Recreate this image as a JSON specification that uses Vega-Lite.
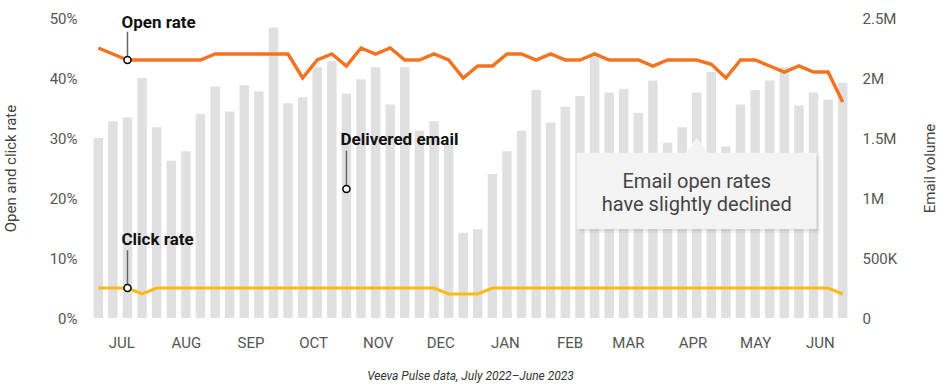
{
  "$schema": "https://vega.github.io/schema/vega-lite/v6.json",
  "width": 759,
  "height": 300,
  "autosize": {"type": "none"},
  "padding": {"left": 91, "top": 18, "right": 91, "bottom": 73},
  "background": "white",
  "config": {
    "font": "Roboto",
    "view": {"stroke": null},
    "axis": {
      "grid": false, "domain": false, "ticks": false,
      "labelFont": "Roboto", "labelFontSize": 15, "labelColor": "#555555",
      "titleFont": "Roboto", "titleFontSize": 15, "titleFontWeight": "normal", "titleColor": "#444444"
    }
  },
  "title": {
    "text": "Veeva Pulse data, July 2022–June 2023",
    "orient": "bottom", "anchor": "middle", "fontSize": 12, "fontStyle": "italic",
    "fontWeight": "normal", "color": "#333333", "offset": 21, "font": "Roboto"
  },
  "datasets": {
    "weeks": [
      {"week": "2022-07-04", "volume": 1500000, "open": 45, "click": 5},
      {"week": "2022-07-11", "volume": 1640000, "open": 44, "click": 5},
      {"week": "2022-07-18", "volume": 1670000, "open": 43, "click": 5},
      {"week": "2022-07-25", "volume": 2000000, "open": 43, "click": 4},
      {"week": "2022-08-01", "volume": 1590000, "open": 43, "click": 5},
      {"week": "2022-08-08", "volume": 1310000, "open": 43, "click": 5},
      {"week": "2022-08-15", "volume": 1390000, "open": 43, "click": 5},
      {"week": "2022-08-22", "volume": 1700000, "open": 43, "click": 5},
      {"week": "2022-08-29", "volume": 1930000, "open": 44, "click": 5},
      {"week": "2022-09-05", "volume": 1720000, "open": 44, "click": 5},
      {"week": "2022-09-12", "volume": 1940000, "open": 44, "click": 5},
      {"week": "2022-09-19", "volume": 1890000, "open": 44, "click": 5},
      {"week": "2022-09-26", "volume": 2420000, "open": 44, "click": 5},
      {"week": "2022-10-03", "volume": 1790000, "open": 44, "click": 5},
      {"week": "2022-10-10", "volume": 1840000, "open": 40, "click": 5},
      {"week": "2022-10-17", "volume": 2090000, "open": 43, "click": 5},
      {"week": "2022-10-24", "volume": 2140000, "open": 44, "click": 5},
      {"week": "2022-10-31", "volume": 1870000, "open": 42, "click": 5},
      {"week": "2022-11-07", "volume": 1990000, "open": 45, "click": 5},
      {"week": "2022-11-14", "volume": 2090000, "open": 44, "click": 5},
      {"week": "2022-11-21", "volume": 1780000, "open": 45, "click": 5},
      {"week": "2022-11-28", "volume": 2090000, "open": 43, "click": 5},
      {"week": "2022-12-05", "volume": 1560000, "open": 43, "click": 5},
      {"week": "2022-12-12", "volume": 1640000, "open": 44, "click": 5},
      {"week": "2022-12-19", "volume": 1440000, "open": 43, "click": 4},
      {"week": "2022-12-26", "volume": 710000, "open": 40, "click": 4},
      {"week": "2023-01-02", "volume": 740000, "open": 42, "click": 4},
      {"week": "2023-01-09", "volume": 1200000, "open": 42, "click": 5},
      {"week": "2023-01-16", "volume": 1390000, "open": 44, "click": 5},
      {"week": "2023-01-23", "volume": 1560000, "open": 44, "click": 5},
      {"week": "2023-01-30", "volume": 1900000, "open": 43, "click": 5},
      {"week": "2023-02-06", "volume": 1630000, "open": 44, "click": 5},
      {"week": "2023-02-13", "volume": 1760000, "open": 43, "click": 5},
      {"week": "2023-02-20", "volume": 1850000, "open": 43, "click": 5},
      {"week": "2023-02-27", "volume": 2180000, "open": 44, "click": 5},
      {"week": "2023-03-06", "volume": 1880000, "open": 43, "click": 5},
      {"week": "2023-03-13", "volume": 1910000, "open": 43, "click": 5},
      {"week": "2023-03-20", "volume": 1710000, "open": 43, "click": 5},
      {"week": "2023-03-27", "volume": 1980000, "open": 42, "click": 5},
      {"week": "2023-04-03", "volume": 1460000, "open": 43, "click": 5},
      {"week": "2023-04-10", "volume": 1590000, "open": 43, "click": 5},
      {"week": "2023-04-17", "volume": 1880000, "open": 43, "click": 5},
      {"week": "2023-04-24", "volume": 2050000, "open": 42.3, "click": 5},
      {"week": "2023-05-01", "volume": 1430000, "open": 40, "click": 5},
      {"week": "2023-05-08", "volume": 1780000, "open": 43, "click": 5},
      {"week": "2023-05-15", "volume": 1900000, "open": 43, "click": 5},
      {"week": "2023-05-22", "volume": 1980000, "open": 42, "click": 5},
      {"week": "2023-05-29", "volume": 2090000, "open": 41, "click": 5},
      {"week": "2023-06-05", "volume": 1770000, "open": 42, "click": 5},
      {"week": "2023-06-12", "volume": 1880000, "open": 41, "click": 5},
      {"week": "2023-06-19", "volume": 1820000, "open": 41, "click": 5},
      {"week": "2023-06-26", "volume": 1960000, "open": 36, "click": 4}
    ],
    "notes": [
      {"label": "Open rate", "week": "2022-07-18", "ytext": 48.3, "ytop": 47.7, "ypt": 43},
      {"label": "Click rate", "week": "2022-07-18", "ytext": 12.2, "ytop": 11.3, "ypt": 5},
      {"label": "Delivered email", "week": "2022-10-31", "ytext": 28.8, "ytop": 27.9, "ypt": 21.5}
    ],
    "box": [
      {"week": "2023-02-18T11:00:00Z", "week2": "2023-06-13T12:00:00Z", "top": 27.55, "bottom": 14.83}
    ],
    "callout": [
      {"week": "2023-04-17T00:00:00Z", "top": 27.55, "ty": 22.67, "text": "Email open rates\nhave slightly declined"}
    ]
  },
  "layer": [
    {
      "data": {"name": "weeks"},
      "mark": {"type": "bar", "size": 9.5, "color": "#e0e0e0"},
      "encoding": {
        "x": {
          "field": "week", "type": "temporal", "title": null,
          "scale": {"type": "utc", "padding": 0, "domain": ["2022-06-30T12:00:00Z", "2023-06-29T12:00:00Z"]},
          "axis": {
            "values": [
              {"year": 2022, "month": 7, "date": 15, "utc": true},
              {"year": 2022, "month": 8, "date": 15, "utc": true},
              {"year": 2022, "month": 9, "date": 15, "utc": true},
              {"year": 2022, "month": 10, "date": 15, "utc": true},
              {"year": 2022, "month": 11, "date": 15, "utc": true},
              {"year": 2022, "month": 12, "date": 15, "utc": true},
              {"year": 2023, "month": 1, "date": 15, "utc": true},
              {"year": 2023, "month": 2, "date": 15, "utc": true},
              {"year": 2023, "month": 3, "date": 15, "utc": true},
              {"year": 2023, "month": 4, "date": 15, "utc": true},
              {"year": 2023, "month": 5, "date": 15, "utc": true},
              {"year": 2023, "month": 6, "date": 15, "utc": true}
            ],
            "labelExpr": "upper(utcFormat(datum.value, '%b'))",
            "labelPadding": 17
          }
        },
        "y": {
          "field": "volume", "type": "quantitative",
          "scale": {"domain": [0, 2500000]},
          "axis": {
            "orient": "right", "title": "Email volume",
            "values": [0, 500000, 1000000, 1500000, 2000000, 2500000],
            "labelExpr": "datum.value == 0 ? '0' : datum.value >= 1000000 ? format(datum.value / 1000000, '~g') + 'M' : format(datum.value / 1000, '~g') + 'K'",
            "labelPadding": 12, "titlePadding": 26, "titleAngle": -90, "titleBaseline": "top"
          }
        }
      }
    },
    {
      "encoding": {
        "x": {
          "field": "week", "type": "temporal", "title": null,
          "scale": {"type": "utc", "padding": 0, "domain": ["2022-06-30T12:00:00Z", "2023-06-29T12:00:00Z"]},
          "axis": {
            "values": [
              {"year": 2022, "month": 7, "date": 15, "utc": true},
              {"year": 2022, "month": 8, "date": 15, "utc": true},
              {"year": 2022, "month": 9, "date": 15, "utc": true},
              {"year": 2022, "month": 10, "date": 15, "utc": true},
              {"year": 2022, "month": 11, "date": 15, "utc": true},
              {"year": 2022, "month": 12, "date": 15, "utc": true},
              {"year": 2023, "month": 1, "date": 15, "utc": true},
              {"year": 2023, "month": 2, "date": 15, "utc": true},
              {"year": 2023, "month": 3, "date": 15, "utc": true},
              {"year": 2023, "month": 4, "date": 15, "utc": true},
              {"year": 2023, "month": 5, "date": 15, "utc": true},
              {"year": 2023, "month": 6, "date": 15, "utc": true}
            ],
            "labelExpr": "upper(utcFormat(datum.value, '%b'))",
            "labelPadding": 17
          }
        }
      },
      "layer": [
        {
          "data": {"name": "weeks"},
          "mark": {"type": "line", "color": "#FBB917", "strokeWidth": 3},
          "encoding": {
            "y": {
              "field": "click", "type": "quantitative", "scale": {"domain": [0, 50]},
              "axis": {"orient": "left", "title": "Open and click rate", "values": [0, 10, 20, 30, 40, 50], "labelExpr": "datum.value + '%'", "labelPadding": 14, "titlePadding": 31}
            }
          }
        },
        {
          "data": {"name": "weeks"},
          "mark": {"type": "line", "color": "#F47321", "strokeWidth": 3.5},
          "encoding": {
            "y": {
              "field": "open", "type": "quantitative", "scale": {"domain": [0, 50]},
              "axis": {"orient": "left", "title": "Open and click rate", "values": [0, 10, 20, 30, 40, 50], "labelExpr": "datum.value + '%'", "labelPadding": 14, "titlePadding": 31}
            }
          }
        },
        {
          "data": {"name": "notes"},
          "mark": {"type": "rule", "color": "#666666", "strokeWidth": 1.5},
          "encoding": {
            "y": {
              "field": "ytop", "type": "quantitative", "scale": {"domain": [0, 50]},
              "axis": {"orient": "left", "title": "Open and click rate", "values": [0, 10, 20, 30, 40, 50], "labelExpr": "datum.value + '%'", "labelPadding": 14, "titlePadding": 31}
            },
            "y2": {"field": "ypt"}
          }
        },
        {
          "data": {"name": "notes"},
          "mark": {"type": "point", "shape": "circle", "filled": true, "fill": "white", "stroke": "black", "strokeWidth": 1.5, "size": 50, "opacity": 1},
          "encoding": {
            "y": {
              "field": "ypt", "type": "quantitative", "scale": {"domain": [0, 50]},
              "axis": {"orient": "left", "title": "Open and click rate", "values": [0, 10, 20, 30, 40, 50], "labelExpr": "datum.value + '%'", "labelPadding": 14, "titlePadding": 31}
            }
          }
        },
        {
          "data": {"name": "notes"},
          "mark": {"type": "text", "align": "left", "baseline": "alphabetic", "dx": -6, "fontSize": 17, "fontWeight": "bold", "color": "#111111", "font": "Roboto"},
          "encoding": {
            "y": {
              "field": "ytext", "type": "quantitative", "scale": {"domain": [0, 50]},
              "axis": {"orient": "left", "title": "Open and click rate", "values": [0, 10, 20, 30, 40, 50], "labelExpr": "datum.value + '%'", "labelPadding": 14, "titlePadding": 31}
            },
            "text": {"field": "label"}
          }
        },
        {
          "data": {"name": "box"},
          "mark": {"type": "rect", "color": "black", "opacity": 0.04, "xOffset": 4, "x2Offset": 4, "yOffset": 4, "y2Offset": 4},
          "encoding": {
            "x2": {"field": "week2"},
            "y": {
              "field": "top", "type": "quantitative", "scale": {"domain": [0, 50]},
              "axis": {"orient": "left", "title": "Open and click rate", "values": [0, 10, 20, 30, 40, 50], "labelExpr": "datum.value + '%'", "labelPadding": 14, "titlePadding": 31}
            },
            "y2": {"field": "bottom"}
          }
        },
        {
          "data": {"name": "box"},
          "mark": {"type": "rect", "color": "black", "opacity": 0.06, "xOffset": 2, "x2Offset": 2, "yOffset": 2, "y2Offset": 2},
          "encoding": {
            "x2": {"field": "week2"},
            "y": {
              "field": "top", "type": "quantitative", "scale": {"domain": [0, 50]},
              "axis": {"orient": "left", "title": "Open and click rate", "values": [0, 10, 20, 30, 40, 50], "labelExpr": "datum.value + '%'", "labelPadding": 14, "titlePadding": 31}
            },
            "y2": {"field": "bottom"}
          }
        },
        {
          "data": {"name": "box"},
          "mark": {"type": "rect", "color": "#f4f4f4", "opacity": 1},
          "encoding": {
            "x2": {"field": "week2"},
            "y": {
              "field": "top", "type": "quantitative", "scale": {"domain": [0, 50]},
              "axis": {"orient": "left", "title": "Open and click rate", "values": [0, 10, 20, 30, 40, 50], "labelExpr": "datum.value + '%'", "labelPadding": 14, "titlePadding": 31}
            },
            "y2": {"field": "bottom"}
          }
        },
        {
          "data": {"name": "callout"},
          "mark": {"type": "point", "shape": "M-1,0L0,-1.36L1,0Z", "filled": true, "color": "#f4f4f4", "opacity": 1, "size": 484, "strokeWidth": 0},
          "encoding": {
            "y": {
              "field": "top", "type": "quantitative", "scale": {"domain": [0, 50]},
              "axis": {"orient": "left", "title": "Open and click rate", "values": [0, 10, 20, 30, 40, 50], "labelExpr": "datum.value + '%'", "labelPadding": 14, "titlePadding": 31}
            }
          }
        },
        {
          "data": {"name": "callout"},
          "mark": {"type": "text", "align": "center", "baseline": "middle", "lineBreak": "\n", "fontSize": 20, "lineHeight": 23, "color": "#444444", "font": "Roboto"},
          "encoding": {
            "y": {
              "field": "ty", "type": "quantitative", "scale": {"domain": [0, 50]},
              "axis": {"orient": "left", "title": "Open and click rate", "values": [0, 10, 20, 30, 40, 50], "labelExpr": "datum.value + '%'", "labelPadding": 14, "titlePadding": 31}
            },
            "text": {"field": "text"}
          }
        }
      ]
    }
  ],
  "resolve": {"scale": {"y": "independent"}}
}
